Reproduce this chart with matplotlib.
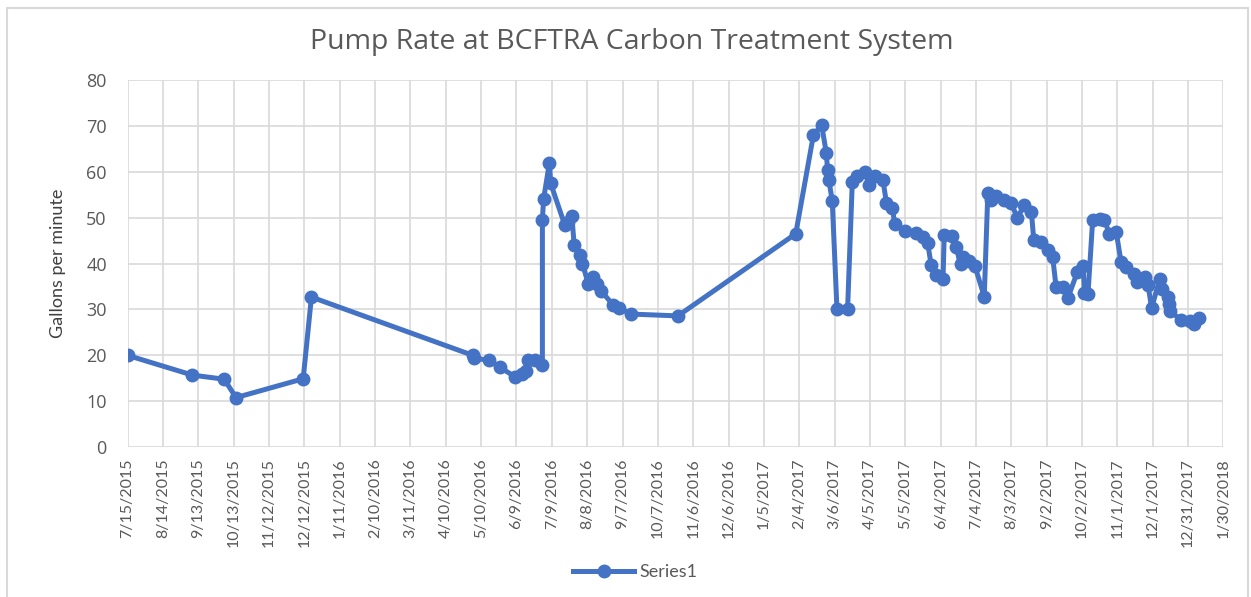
import matplotlib
matplotlib.use("Agg")
import matplotlib.pyplot as plt
import pandas as pd
from matplotlib.patches import Rectangle

# sample dates and pump rate (gallons per minute)
dates = [
    "2015-07-15", "2015-09-08", "2015-10-05", "2015-10-15", "2015-12-11", "2015-12-18",
    "2016-05-03", "2016-05-04", "2016-05-17", "2016-05-26", "2016-06-08", "2016-06-14",
    "2016-06-17", "2016-06-19", "2016-06-25", "2016-07-01", "2016-07-01", "2016-07-02",
    "2016-07-07", "2016-07-08", "2016-07-20", "2016-07-23", "2016-07-26", "2016-07-28",
    "2016-08-02", "2016-08-04", "2016-08-09", "2016-08-13", "2016-08-16", "2016-08-20",
    "2016-08-30", "2016-09-04", "2016-09-14", "2016-10-24",
    "2017-02-01", "2017-02-16", "2017-02-23", "2017-02-27", "2017-02-28", "2017-03-01",
    "2017-03-04", "2017-03-08", "2017-03-17", "2017-03-21", "2017-03-25", "2017-04-01",
    "2017-04-04", "2017-04-09", "2017-04-16", "2017-04-19", "2017-04-24", "2017-04-26",
    "2017-05-05", "2017-05-14", "2017-05-20", "2017-05-24", "2017-05-27", "2017-05-31",
    "2017-06-06", "2017-06-07", "2017-06-14", "2017-06-17", "2017-06-21", "2017-06-23",
    "2017-06-28", "2017-07-03", "2017-07-11", "2017-07-14", "2017-07-17", "2017-07-21",
    "2017-07-28", "2017-08-03", "2017-08-08", "2017-08-14", "2017-08-20", "2017-08-22",
    "2017-08-28", "2017-09-03", "2017-09-07", "2017-09-10", "2017-09-16", "2017-09-20",
    "2017-09-28", "2017-10-03", "2017-10-04", "2017-10-07", "2017-10-11", "2017-10-17",
    "2017-10-21", "2017-10-25", "2017-10-31", "2017-11-04", "2017-11-08", "2017-11-15",
    "2017-11-18", "2017-11-24", "2017-11-27", "2017-11-30", "2017-12-07", "2017-12-09",
    "2017-12-14", "2017-12-15", "2017-12-16", "2017-12-25", "2018-01-02", "2018-01-05",
    "2018-01-09",
]
gpm = [
    20.0, 15.7, 14.8, 10.8, 14.9, 32.7,
    20.0, 19.4, 18.9, 17.4, 15.3, 16.0,
    16.7, 19.0, 18.9, 17.8, 49.5, 54.0,
    62.0, 57.5, 48.4, 49.0, 50.4, 44.0,
    41.8, 40.0, 35.5, 37.0, 35.5, 34.0,
    31.0, 30.3, 29.0, 28.6,
    46.5, 68.0, 70.2, 64.0, 60.4, 58.3,
    53.7, 30.0, 30.0, 57.8, 59.0, 60.0,
    57.2, 59.0, 58.2, 53.2, 52.2, 48.6,
    47.0, 46.6, 45.8, 44.4, 39.6, 37.5,
    36.7, 46.2, 46.0, 43.6, 39.8, 41.5,
    40.5, 39.5, 32.8, 55.3, 53.8, 54.8,
    53.8, 53.1, 50.0, 52.7, 51.2, 45.2,
    44.7, 43.0, 41.5, 34.8, 35.0, 32.5,
    38.2, 39.5, 33.5, 33.3, 49.5, 49.7,
    49.6, 46.5, 46.9, 40.4, 39.2, 37.8,
    36.0, 37.1, 35.3, 30.3, 36.7, 34.5,
    32.8, 31.3, 29.6, 27.7, 27.5, 26.8,
    28.1,
]

x_tick_labels = [
    "7/15/2015", "8/14/2015", "9/13/2015", "10/13/2015", "11/12/2015", "12/12/2015",
    "1/11/2016", "2/10/2016", "3/11/2016", "4/10/2016", "5/10/2016", "6/9/2016",
    "7/9/2016", "8/8/2016", "9/7/2016", "10/7/2016", "11/6/2016", "12/6/2016",
    "1/5/2017", "2/4/2017", "3/6/2017", "4/5/2017", "5/5/2017", "6/4/2017",
    "7/4/2017", "8/3/2017", "9/2/2017", "10/2/2017", "11/1/2017", "12/1/2017",
    "12/31/2017", "1/30/2018",
]
y_ticks = [0, 10, 20, 30, 40, 50, 60, 70, 80]

BLUE = "#4472C4"
GRID = "#D9D9D9"
TEXT = "#595959"

x = pd.to_datetime(dates)
x_ticks = pd.to_datetime(x_tick_labels, format="%m/%d/%Y")

fig = plt.figure(figsize=(12.51, 5.97), dpi=100)
ax = fig.add_axes([0.102, 0.251, 0.876, 0.615])

ax.plot(x, gpm, color=BLUE, lw=3.6, marker="o", ms=9,
        solid_joinstyle="round", label="Series1")

ax.set_xlim(x_ticks[0], x_ticks[-1])
ax.set_ylim(0, 80)
ax.set_xticks(x_ticks)
ax.set_xticklabels(x_tick_labels, rotation=90, fontsize=11.5,
                   family="Lato", color=TEXT, va="top")
ax.set_yticks(y_ticks)
ax.set_yticklabels([str(v) for v in y_ticks], fontsize=13,
                   family="Open Sans", color=TEXT)
ax.tick_params(axis="both", length=0)
ax.tick_params(axis="x", pad=8)
ax.tick_params(axis="y", pad=15)
ax.grid(True, color=GRID, lw=1.2)
ax.set_axisbelow(True)
for s in ax.spines.values():
    s.set_visible(False)

fig.text(0.505, 1 - 42 / 597, "Pump Rate at BCFTRA Carbon Treatment System",
         ha="center", va="center", fontsize=20.5, family="Open Sans", color=TEXT)
fig.text(58 / 1251, 1 - 263 / 597, "Gallons per minute", rotation=90,
         ha="center", va="center", fontsize=13, family="Lato", color="#404040")

fig.legend(loc="center", bbox_to_anchor=(0.508, 1 - 572 / 597), frameon=False,
           handlelength=3.4, handletextpad=0.3,
           prop={"family": "Lato", "size": 13}, labelcolor=TEXT)

fig.patches.append(Rectangle((7 / 1251, -0.02), 1241 / 1251, 0.02 + 1 - 8 / 597,
                             transform=fig.transFigure, fill=False,
                             edgecolor=GRID, lw=1.5))

fig.savefig("out.png", dpi=100)
